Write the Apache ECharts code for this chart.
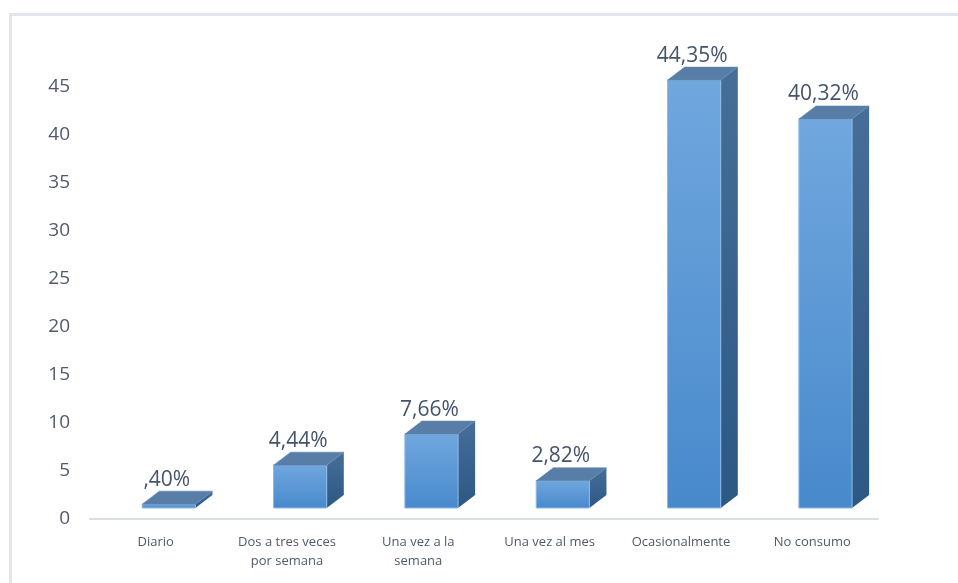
<!DOCTYPE html>
<html>
<head>
<meta charset="utf-8">
<script src="https://cdn.jsdelivr.net/npm/echarts@6/dist/echarts.min.js"></script>
<style>
  html, body { margin: 0; padding: 0; background: #ffffff; }
  #frame { position: absolute; left: 9px; top: 13px; width: 960px; height: 580px;
           border-top: 3px solid #e1e6ee; border-left: 3px solid #e1e6ee; box-sizing: border-box; }
  #chart { position: absolute; left: 0; top: 0; width: 958px; height: 583px; }
</style>
</head>
<body>
<div id="frame"></div>
<div id="chart"></div>
<script>
// Frequency of consumption (percent of respondents)
const categories = [
  'Diario',
  'Dos a tres veces\npor semana',
  'Una vez a la\nsemana',
  'Una vez al mes',
  'Ocasionalmente',
  'No consumo'
];
const percentages = [0.40, 4.44, 7.66, 2.82, 44.35, 40.32];
const yTicks = { min: 0, max: 45, interval: 5 };

// Spanish-style percentage text, e.g. 0.40 -> ",40%", 44.35 -> "44,35%"
function fmtPct(v) {
  let s = v.toFixed(2).replace('.', ',');
  if (s.startsWith('0,')) s = s.slice(1);
  return s + '%';
}

// Pseudo-3D column geometry, relative to the category band
const FRONT_SHIFT = 0.10;   // front face centre offset (fraction of band)
const FRONT_WIDTH = 0.405;  // front face width (fraction of band)
const DEPTH_X = 0.13;       // depth offset to the right (fraction of band)
const DEPTH_Y = 13;         // depth offset upwards (px)
const FLOOR_LIFT = 11;      // front face sits above the axis line
const FRONT_SCALE = 1.005;  // slight perspective growth of the front face

function renderColumn(params, api) {
  const idx = api.value(0);
  const val = api.value(1);
  const band = api.size([1, 0])[0];
  const zero = api.coord([idx, 0]);
  const top = api.coord([idx, val]);
  const cx = zero[0] + band * FRONT_SHIFT;
  const w = band * FRONT_WIDTH;
  const dx = band * DEPTH_X;
  const dy = DEPTH_Y;
  const x0 = cx - w / 2, x1 = cx + w / 2;
  const yb = zero[1] - FLOOR_LIFT;
  const yt = yb - (zero[1] - top[1]) * FRONT_SCALE;

  const front = {
    type: 'rect',
    shape: { x: x0, y: yt, width: w, height: yb - yt },
    style: {
      fill: new echarts.graphic.LinearGradient(0, 0, 0, 1, [
        { offset: 0, color: '#70a7de' },
        { offset: 1, color: '#4889cc' }
      ]),
      stroke: '#8cbbe9',
      lineWidth: 1
    }
  };
  const side = {
    type: 'polygon',
    shape: { points: [[x1, yt], [x1 + dx, yt - dy], [x1 + dx, yb - dy], [x1, yb]] },
    style: {
      fill: new echarts.graphic.LinearGradient(0, 0, 0, 1, [
        { offset: 0, color: '#466e98' },
        { offset: 1, color: '#2c5884' }
      ])
    }
  };
  const lid = {
    type: 'polygon',
    shape: { points: [[x0, yt], [x1, yt], [x1 + dx, yt - dy], [x0 + dx, yt - dy]] },
    style: { fill: '#587ea8', stroke: '#6287b0', lineWidth: 0.6 }
  };
  const label = {
    type: 'text',
    style: {
      text: fmtPct(val),
      x: cx - 2,
      y: yt - dy - 1,
      align: 'center',
      verticalAlign: 'bottom',
      fill: '#44546a',
      font: '21px "Liberation Sans Narrow", "Open Sans", sans-serif'
    }
  };
  return { type: 'group', children: [side, front, lid, label] };
}

const chart = echarts.init(document.getElementById('chart'), null, { renderer: 'canvas' });
chart.setOption({
  animation: false,
  grid: { left: 90, right: 80, top: 87, bottom: 64, containLabel: false },
  xAxis: {
    type: 'category',
    data: categories,
    axisLine: { show: true, lineStyle: { color: '#d9dee5', width: 2 } },
    axisTick: { show: false },
    axisLabel: {
      margin: 14,
      color: '#505a68',
      fontSize: 13,
      lineHeight: 19,
      fontFamily: '"Open Sans", sans-serif',
      interval: 0
    }
  },
  yAxis: {
    type: 'value',
    min: yTicks.min,
    max: yTicks.max,
    interval: yTicks.interval,
    axisLine: { show: false },
    axisTick: { show: false },
    splitLine: { show: false },
    axisLabel: {
      margin: 20,
      color: '#505a6b',
      fontSize: 19,
      fontFamily: '"Open Sans", sans-serif'
    }
  },
  series: [{
    type: 'custom',
    renderItem: renderColumn,
    encode: { x: 0, y: 1 },
    data: percentages.map((v, i) => [i, v]),
    clip: false
  }]
});
</script>
</body>
</html>
